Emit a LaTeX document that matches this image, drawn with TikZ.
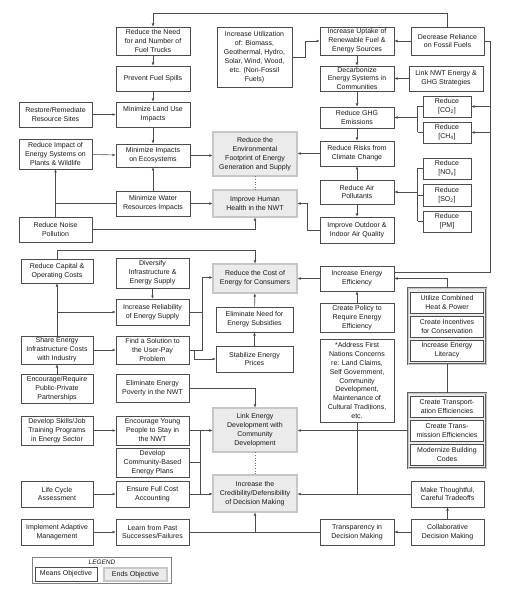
\documentclass[tikz,border=0pt]{standalone}
\usepackage{fontspec}
\setmainfont{Liberation Sans}
\usetikzlibrary{arrows.meta,calc}
\tikzset{
 mbox/.style={draw=black!70, line width=0.6pt, fill=white, align=center, inner sep=0pt, font=\fontsize{7}{8.9}\selectfont, text=black!90},
 ebox/.style={mbox, draw=black!62, line width=0.75pt, double=black!22, double distance=1.1pt, fill=black!8},
 gbox/.style={draw=black!62, line width=0.7pt, double=black!22, double distance=1pt, fill=black!8, inner sep=0pt},
 arr/.style={draw=black!70, line width=0.6pt, -{Latex[length=3.2pt,width=2.8pt]}},
 ln/.style={draw=black!70, line width=0.6pt},
 dotln/.style={draw=black!55, line width=0.6pt, dotted},
}
\newcommand\objbox[7][mbox]{\node[#1, minimum width={(#5-#3)*1pt}, minimum height={(#6-#4)*1pt}] (#2) at ({(#3+#5)/2},{(#4+#6)/2}) {#7};}
\begin{document}
\begin{tikzpicture}[x=1pt,y=-1pt]
\useasboundingbox (0,0) rectangle (525,593);
% ---------- top section
\objbox{trucks}{116}{27}{190}{55}{Reduce the Need\\for and Number of\\Fuel Trucks}
\objbox{spills}{116}{66}{190}{91}{Prevent Fuel Spills}
\objbox{landuse}{116}{102}{190}{127}{Minimize Land Use\\Impacts}
\objbox{restore}{19}{102}{92}{127}{Restore/Remediate\\Resource Sites}
\objbox{util}{217}{27}{292}{87}{Increase Utilization\\of: Biomass,\\Geothermal, Hydro,\\Solar, Wind, Wood,\\etc. (Non-Fossil\\Fuels)}
\objbox{uptake}{320}{27}{394}{55}{Increase Uptake of\\Renewable Fuel \&\\Energy Sources}
\objbox{decrease}{411}{27}{484}{55}{Decrease Reliance\\on Fossil Fuels}
\objbox{decarb}{320}{66}{394}{91}{Decarbonize\\Energy Systems in\\Communities}
\objbox{linknwt}{409}{66}{483}{91}{Link NWT Energy \&\\GHG Strategies}
\objbox{ghg}{320}{107}{394}{128}{Reduce GHG\\Emissions}
\objbox{co2}{423}{96}{471}{117}{Reduce\\{[}CO\textsubscript{2}{]}}
\objbox{ch4}{423}{122}{471}{143}{Reduce\\{[}CH\textsubscript{4}{]}}
\objbox{plants}{19}{139}{92}{169}{Reduce Impact of\\Energy Systems on\\Plants \& Wildlife}
\objbox{eco}{116}{144}{190}{167}{Minimize Impacts\\on Ecosystems}
\objbox[ebox]{footprint}{213}{132}{297}{176}{Reduce the\\Environmental\\Footprint of Energy\\Generation and Supply}
\objbox{risks}{320}{141}{394}{166}{Reduce Risks from\\Climate Change}
\objbox{nox}{423}{158}{471}{179}{Reduce\\{[}NO\textsubscript{x}{]}}
\objbox{so2}{423}{184}{471}{206}{Reduce\\{[}SO\textsubscript{2}{]}}
\objbox{pm}{423}{211}{471}{232}{Reduce\\{[}PM{]}}
\objbox{air}{320}{180}{394}{204}{Reduce Air\\Pollutants}
\objbox{water}{116}{191}{190}{216}{Minimize Water\\Resources Impacts}
\objbox[ebox]{health}{213}{190}{297}{217}{Improve Human\\Health in the NWT}
\objbox{outdoor}{320}{217}{394}{243}{Improve Outdoor \&\\Indoor Air Quality}
\objbox{noise}{19}{217}{92}{242}{Reduce Noise\\Pollution}
% ---------- middle section
\objbox{capital}{21}{259}{93}{283}{Reduce Capital \&\\Operating Costs}
\objbox{diversify}{116}{258}{189}{288}{Diversify\\Infrastructure \&\\Energy Supply}
\objbox[ebox]{cost}{213}{264}{297}{293}{Reduce the Cost of\\Energy for Consumers}
\objbox{eff}{320}{266}{394}{291}{Increase Energy\\Efficiency}
\objbox{reliab}{116}{299}{189}{325}{Increase Reliability\\of Energy Supply}
\objbox{subsid}{216}{307}{293}{332}{Eliminate Need for\\Energy Subsidies}
\objbox{policy}{320}{303}{394}{332}{Create Policy to\\Require Energy\\Efficiency}
\objbox[gbox]{g1}{408}{288}{486}{364}{}
\objbox{chp}{410.5}{292}{483.5}{313}{Utilize Combined\\Heat \& Power}
\objbox{incent}{410.5}{316}{483.5}{337}{Create Incentives\\for Conservation}
\objbox{literacy}{410.5}{340}{483.5}{361}{Increase Energy\\Literacy}
\objbox{share}{21}{336}{93}{364}{Share Energy\\Infrastructure Costs\\with Industry}
\objbox{userpay}{116}{336}{189}{364}{Find a Solution to\\the User-Pay\\Problem}
\objbox{stab}{216}{346}{293}{372}{Stabilize Energy\\Prices}
\objbox{fn}{320}{339}{394}{422}{*Address First\\Nations Concerns\\re: Land Claims,\\Self Government,\\Community\\Development,\\Maintenance of\\Cultural Traditions,\\etc.}
\objbox{ppp}{21}{374}{93}{403}{Encourage/Require\\Public-Private\\Partnerships}
\objbox{poverty}{116}{374}{189}{402}{Eliminate Energy\\Poverty in the NWT}
% ---------- lower section
\objbox[gbox]{g2}{408}{393}{486}{468}{}
\objbox{transp}{410.5}{396}{483.5}{417}{Create Transport-\\ation Efficiencies}
\objbox{transm}{410.5}{420}{483.5}{441}{Create Trans-\\mission Efficiencies}
\objbox{codes}{410.5}{444}{483.5}{465}{Modernize Building\\Codes}
\objbox[ebox]{link}{213}{408}{297}{452}{Link Energy\\Development with\\Community\\Development}
\objbox{skills}{21}{416}{93}{445}{Develop Skills/Job\\Training Programs\\in Energy Sector}
\objbox{young}{116}{416}{189}{445}{Encourage Young\\People to Stay in\\the NWT}
\objbox{plans}{116}{448}{189}{477}{Develop\\Community-Based\\Energy Plans}
\objbox[ebox]{cred}{213}{475}{297}{512}{Increase the\\Credibility/Defensibility\\of Decision Making}
\objbox{lca}{21}{481}{93}{507}{Life Cycle\\Assessment}
\objbox{fullcost}{116}{481}{189}{507}{Ensure Full Cost\\Accounting}
\objbox{tradeoffs}{411}{481}{484}{507}{Make Thoughtful,\\Careful Tradeoffs}
\objbox{adaptive}{21}{519}{93}{545}{Implement Adaptive\\Management}
\objbox{learn}{116}{519}{189}{545}{Learn from Past\\Successes/Failures}
\objbox{transparency}{320}{519}{394}{545}{Transparency in\\Decision Making}
\objbox{collab}{411}{519}{484}{545}{Collaborative\\Decision Making}
% ---------- legend
\node[draw=black!50, line width=0.6pt, minimum width=139pt, minimum height=26pt, inner sep=0pt] (legend) at (101.5,570) {};
\node[font=\fontsize{6.5}{8}\selectfont\itshape, text=black!90] (legendtitle) at (102,562) {LEGEND};
\objbox{means}{35}{567}{97}{581}{Means Objective}
\objbox[ebox]{ends}{104}{568}{167}{581}{Ends Objective}
% ---------- connectors: top
\draw[arr] (decrease.north) -- ++(0,-13) -| (trucks.north);
\draw[arr] (trucks) -- (spills);
\draw[arr] (spills) -- (landuse);
\draw[arr] (restore) -- (landuse);
\draw[arr] (landuse) -- (eco);
\draw[arr] (util.east) -- ++(13,0) |- (uptake.west);
\draw[arr] (decrease) -- (uptake);
\draw[arr] (uptake) -- (decarb);
\draw[arr] (linknwt) -- (decarb);
\draw[arr] (decarb) -- (ghg);
\draw[ln] (co2.west) -- ++(-5,0) coordinate (bA);
\draw[ln] (ch4.west) -- ++(-5,0) coordinate (bB);
\draw[ln] (bA) -- (bB);
\draw[arr] (bA |- ghg.east) -- (ghg.east);
\draw[arr] (ghg) -- (risks);
\draw[arr] (risks.west) -- (risks.west -| footprint.east);
\draw[arr] (air) -- (risks);
\draw[arr] (air) -- (outdoor);
\draw[ln] (nox.west) -- ++(-5,0) coordinate (bC);
\draw[ln] (so2.west) -- ++(-5,0);
\draw[ln] (pm.west) -- ++(-5,0) coordinate (bD);
\draw[ln] (bC) -- (bD);
\draw[arr] (bC |- air.east) -- (air.east);
\draw[arr] (outdoor.west) -- ++(-12,0) |- (health.east);
\draw[ln] (decrease.east) -- ++(6,0) coordinate (rr) -- ($(rr |- eff.east)+(0,-6.5)$) -- ($(eff.east)+(0,-6.5)$);
\draw[arr] (rr |- co2.east) -- (co2.east);
\draw[arr] (rr |- ch4.east) -- (ch4.east);
\draw[arr] (plants) -- (eco);
\draw[arr] (eco.east) -- (eco.east -| footprint.west);
\draw[arr] (water) -- (eco);
\draw[arr] (water.east) -- (water.east -| health.west);
\draw[ln] (water.west) -- (water.west -| noise.north);
\draw[arr] (noise) -- (plants);
\draw[arr] (noise.east) -| (health.south);
\draw[dotln] (footprint.south) -- (health.north);
% ---------- connectors: middle
\draw[arr] (capital.north) -- ++(0,-8) -| (cost.north);
\draw[arr] (diversify) -- (reliab);
\draw[arr] (share) -- (capital);
\draw[arr] (share.north |- reliab.west) -- (reliab.west);
\draw[arr] (ppp) -- (share);
\draw[arr] (share) -- (userpay);
\draw[arr] (userpay.east) -- ++(13,0) coordinate (jj) |- ($(cost.west)+(0,-1)$);
\draw[ln] (reliab.east) -- (reliab.east -| jj);
\draw[arr] ($(userpay.east)+(5,0)$) |- (stab.west);
\draw[arr] (stab) -- (subsid);
\draw[arr] (subsid) -- (cost);
\draw[arr] (eff.west) -- (eff.west -| cost.east);
\draw[arr] (policy) -- (eff);
\draw[arr] (g1.north) |- (eff.east);
\draw[ln] (g1.south) -- (g2.north);
\draw[arr] (poverty.east) -| (link.north);
% ---------- connectors: lower
\draw[arr] (g2.west) -- (g2.west -| link.east);
\draw[ln] (fn.south) -- (fn.south |- tradeoffs.west);
\draw[arr] (tradeoffs.west) -- (tradeoffs.west -| cred.east);
\draw[arr] (collab) -- (tradeoffs);
\draw[arr] (collab) -- (transparency);
\draw[ln] (transparency.west) -- (learn.east);
\draw[arr] (learn.east -| cred.south) -- (cred.south);
\draw[arr] (skills) -- (young);
\draw[arr] (young.east) -- (young.east -| link.west);
\draw[ln] ($(young.east)+(11,0)$) coordinate (jv) -- (jv |- fullcost.east);
\draw[ln] (plans.east) -- (plans.east -| jv);
\draw[arr] (fullcost.east) -- (fullcost.east -| cred.west);
\draw[arr] (lca) -- (fullcost);
\draw[arr] (adaptive) -- (learn);
\draw[dotln] (link.south) -- (cred.north);
\end{tikzpicture}
\end{document}
